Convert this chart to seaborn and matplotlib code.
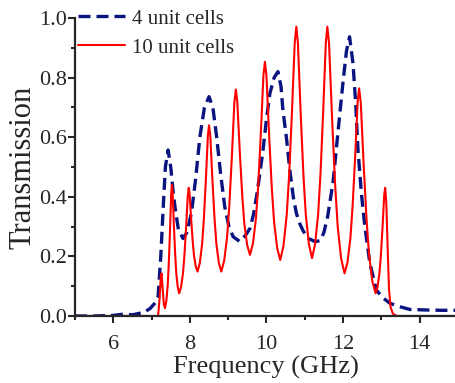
import matplotlib
matplotlib.use("Agg")
import pandas as pd
import matplotlib.pyplot as plt
import seaborn as sns
from matplotlib.ticker import MultipleLocator

# 4 unit cells (dashed blue)
freq_4 = [5.0, 5.5, 6.0, 6.26, 6.5, 6.8, 6.96, 7.1, 7.17, 7.24, 7.3, 7.36, 7.43, 7.5, 7.56,
          7.61, 7.7, 7.82, 7.92, 8.04, 8.15, 8.26, 8.38, 8.5, 8.6, 8.7, 8.8, 8.91, 9.02,
          9.13, 9.3, 9.45, 9.57, 9.66, 9.74, 9.83, 9.91, 10.0, 10.09, 10.2, 10.3, 10.38,
          10.43, 10.52, 10.61, 10.7, 10.78, 10.87, 10.96, 11.1, 11.26, 11.4, 11.5, 11.6,
          11.74, 11.87, 12.0, 12.09, 12.17, 12.26, 12.33, 12.39, 12.48, 12.57, 12.7,
          12.87, 13.05, 13.22, 13.43, 13.74, 14.2, 14.6, 15.0]
trans_4 = [0.0, 0.0, 0.002, 0.006, 0.004, 0.012, 0.025, 0.045, 0.065, 0.2, 0.356, 0.5,
           0.557, 0.5, 0.42, 0.367, 0.29, 0.26, 0.28, 0.345, 0.46, 0.6, 0.7, 0.736, 0.7,
           0.6, 0.48, 0.367, 0.3, 0.266, 0.25, 0.27, 0.294, 0.34, 0.4, 0.48, 0.557, 0.66,
           0.747, 0.8, 0.82, 0.77, 0.69, 0.6, 0.49, 0.4, 0.345, 0.31, 0.285, 0.26,
           0.25, 0.252, 0.28, 0.335, 0.45, 0.62, 0.786, 0.89, 0.937, 0.848, 0.714, 0.557,
           0.41, 0.3, 0.177, 0.087, 0.06, 0.043, 0.033, 0.022, 0.02, 0.019, 0.019]

# 10 unit cells (solid red)
freq_10 = [5.0, 7.17, 7.21, 7.24, 7.26, 7.29, 7.32, 7.35,
           7.386, 7.422, 7.449, 7.48, 7.512, 7.53, 7.549, 7.583, 7.616, 7.644, 7.682, 7.72,
           7.77, 7.82, 7.857, 7.9, 7.945, 7.97, 7.993, 8.034, 8.074, 8.108, 8.154, 8.2,
           8.26, 8.32, 8.365, 8.416, 8.47, 8.5, 8.532, 8.59, 8.644, 8.692, 8.756, 8.82,
           8.896, 8.972, 9.029, 9.094, 9.162, 9.2, 9.237, 9.304, 9.367, 9.422, 9.496, 9.57,
           9.648, 9.726, 9.785, 9.851, 9.921, 9.96, 10.0, 10.072, 10.14, 10.2, 10.28, 10.36,
           10.444, 10.528, 10.591, 10.662, 10.738, 10.78, 10.821, 10.895, 10.965, 11.026,
           11.108, 11.19,
           11.27, 11.35, 11.41, 11.478, 11.55, 11.59, 11.635, 11.716, 11.793, 11.86, 11.95,
           12.04,
           12.116, 12.192, 12.249, 12.314, 12.382, 12.42, 12.463, 12.54, 12.614, 12.678,
           12.764, 12.85,
           12.9, 12.95, 12.988, 13.03, 13.075, 13.1, 13.13, 13.16, 13.2, 13.24, 13.3, 13.4,
           15.0]
trans_10 = [0.0, 0.0, 0.06, 0.13, 0.143, 0.09, 0.04, 0.026,
            0.051, 0.105, 0.175, 0.283, 0.411, 0.44, 0.415, 0.302, 0.207, 0.145, 0.098, 0.076,
            0.097, 0.143, 0.203, 0.295, 0.405, 0.43, 0.41, 0.323, 0.25, 0.202, 0.166, 0.149,
            0.178, 0.242, 0.326, 0.453, 0.606, 0.64, 0.606, 0.453, 0.326, 0.242, 0.178, 0.149,
            0.186, 0.265, 0.369, 0.528, 0.717, 0.76, 0.721, 0.549, 0.405, 0.31, 0.238, 0.205,
            0.244, 0.328, 0.438, 0.607, 0.808, 0.853, 0.806, 0.6, 0.427, 0.314, 0.228, 0.188,
            0.235, 0.337, 0.47, 0.673, 0.916, 0.971, 0.917, 0.676, 0.474, 0.342,
            0.241, 0.194,
            0.241, 0.342, 0.474, 0.676, 0.917, 0.971, 0.913, 0.656, 0.441, 0.3, 0.193,
            0.143,
            0.18, 0.261, 0.367, 0.528, 0.72, 0.764, 0.716, 0.503, 0.324, 0.207,
            0.117, 0.076,
            0.097, 0.143, 0.203, 0.295, 0.405, 0.43, 0.38, 0.25, 0.09, 0.03, 0.008, 0.0,
            0.0]

x_ticks = [6, 8, 10, 12, 14]
y_ticks = [0.0, 0.2, 0.4, 0.6, 0.8, 1.0]


def plot_data(df4, df10):
    fig = plt.figure(figsize=(4.56, 3.83), dpi=100)
    ax = fig.add_axes([0.1645, 0.175, 0.8355, 0.778])

    sns.lineplot(data=df4, x="f", y="T", ax=ax, color="#0a1480", lw=2.4,
                 label="4 unit cells", sort=False)
    sns.lineplot(data=df10, x="f", y="T", ax=ax, color="#ff0000", lw=1.5,
                 label="10 unit cells", sort=False)
    ax.lines[0].set_dashes((3.6, 1.8))

    ax.set_xlim(5, 14.95)
    ax.set_ylim(0, 1.0)
    ax.set_xticks(x_ticks)
    ax.set_yticks(y_ticks)
    ax.set_yticklabels([f"{v:.1f}" for v in y_ticks])
    ax.xaxis.set_minor_locator(MultipleLocator(1))
    ax.yaxis.set_minor_locator(MultipleLocator(0.1))
    ax.tick_params(which="major", direction="out", length=5, width=1.5, labelsize=16, pad=1)
    ax.tick_params(which="minor", direction="out", length=3, width=1.5)
    ax.tick_params(axis="x", which="major", pad=9)

    for s in ["top", "right"]:
        ax.spines[s].set_visible(False)
    for s in ["left", "bottom"]:
        ax.spines[s].set_linewidth(1.6)

    ax.set_xlabel("Frequency (GHz)", fontsize=19, labelpad=1)
    ax.set_ylabel("Transmission", fontsize=22, labelpad=1)

    leg = ax.legend(loc="upper left", bbox_to_anchor=(0.008, 1.03), frameon=False,
                    fontsize=15, handlelength=2.26, handletextpad=0.32,
                    labelspacing=0.45, borderaxespad=0, borderpad=0)
    leg.get_lines()[0].set_dashes((3.6, 1.8))

    fig.savefig("out.png", dpi=100)


def main():
    sns.set_style("ticks")
    plt.rcParams["font.family"] = ["Liberation Serif", "DejaVu Serif"]
    df4 = pd.DataFrame({"f": freq_4, "T": trans_4})
    df10 = pd.DataFrame({"f": freq_10, "T": trans_10})
    plot_data(df4, df10)


if __name__ == '__main__':
    main()
